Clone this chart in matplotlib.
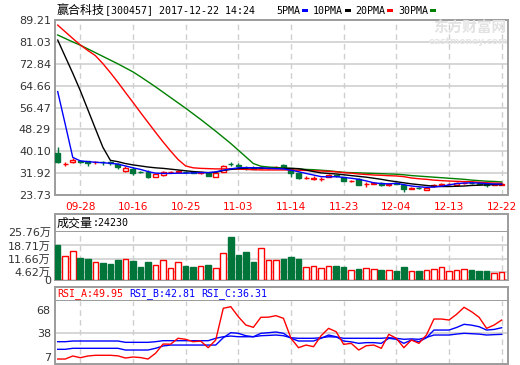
import matplotlib
matplotlib.use('Agg')
import matplotlib.pyplot as plt
from matplotlib.patches import Rectangle

# ---------------- data ----------------
date_labels = ['09-28', '10-16', '10-25', '11-03', '11-14', '11-23', '12-04', '12-13', '12-22']
date_index = [3, 10, 17, 24, 31, 38, 45, 52, 59]

opens = [39.6, 35.35, 36.0, 36.6, 36.3, 36.0, 36.1, 36.0, 35.3, 32.8,
         33.4, 32.4, 32.3, 30.6, 31.3, 32.2, 32.5, 32.4, 32.3, 32.0,
         32.1, 30.6, 32.45, 35.5, 34.8, 33.9, 34.0, 33.8, 33.8, 34.2,
         35.0, 33.35, 31.85, 30.0, 29.8, 29.6, 30.6, 31.2, 30.35, 28.8,
         29.6, 27.8, 28.0, 28.33, 27.4, 28.2, 27.3, 26.15, 26.3, 25.6,
         27.1, 27.6, 27.8, 27.6, 28.1, 28.3, 28.2, 27.7, 27.6, 27.6]
highs = [41.8, 36.2, 37.5, 36.9, 36.6, 36.6, 36.6, 36.4, 35.8, 34.4,
         34.2, 32.6, 33.0, 31.6, 32.8, 32.8, 33.2, 32.8, 32.6, 32.5,
         32.4, 32.0, 34.8, 36.0, 35.6, 34.5, 34.4, 34.7, 34.3, 34.6,
         35.5, 34.0, 32.2, 30.7, 30.8, 30.4, 31.6, 31.4, 30.6, 29.3,
         30.1, 28.6, 28.5, 28.6, 27.9, 28.4, 27.5, 26.7, 26.6, 26.6,
         27.7, 28.2, 28.3, 28.5, 28.7, 29.1, 28.4, 27.9, 28.0, 28.1]
lows = [35.6, 34.7, 35.6, 35.6, 34.6, 35.4, 34.8, 34.9, 33.4, 32.3,
        31.1, 31.8, 30.1, 30.3, 31.0, 31.9, 32.1, 31.9, 31.8, 31.7,
        30.9, 30.4, 32.3, 34.7, 33.9, 33.2, 33.3, 33.3, 33.5, 33.9,
        33.7, 30.6, 29.7, 29.9, 29.4, 29.0, 30.4, 30.5, 28.9, 28.5,
        27.3, 26.9, 27.7, 27.2, 27.2, 27.7, 25.0, 25.9, 25.9, 25.5,
        26.9, 27.3, 27.3, 27.5, 27.7, 27.9, 27.8, 26.9, 27.4, 27.4]
closes = [36.1, 35.45, 36.8, 36.0, 35.6, 36.1, 35.9, 35.6, 34.1, 33.8,
          31.9, 32.3, 30.5, 31.5, 32.3, 32.45, 32.7, 32.2, 32.0, 32.2,
          30.95, 31.85, 34.6, 35.3, 34.7, 33.7, 33.6, 33.95, 34.0, 34.3,
          33.8, 31.85, 30.0, 30.2, 29.9, 29.7, 31.33, 30.7, 29.08, 28.9,
          27.6, 27.9, 28.1, 27.35, 27.7, 27.9, 26.0, 26.25, 26.2, 26.46,
          27.5, 27.8, 27.9, 28.3, 28.2, 28.2, 27.9, 27.6, 27.8, 27.9]

ma5 = [62.4, 50.2, 37.8, 36.5, 36.2, 36.0, 35.8, 35.6, 35.3, 34.6,
       33.9, 33.3, 32.5, 31.9, 31.8, 31.8, 31.9, 31.9, 32.0, 32.1,
       32.1, 32.4, 33.0, 33.5, 33.9, 34.0, 33.9, 33.9, 33.7, 33.6,
       33.5, 33.0, 32.45, 31.8, 31.2, 30.6, 30.5, 30.6, 30.3, 30.0,
       29.6, 29.0, 28.3, 28.0, 27.9, 28.1, 27.6, 27.1, 26.8, 26.6,
       26.7, 27.0, 27.5, 28.0, 28.2, 28.3, 28.2, 28.0, 27.85, 27.8]
ma10 = [81.7, 75.5, 69.3, 62.8, 55.7, 48.6, 41.6, 36.7, 36.2, 35.5,
        35.0, 34.6, 34.2, 33.9, 33.7, 33.4, 33.1, 32.8, 32.5, 32.3,
        32.1, 32.2, 32.9, 33.3, 33.6, 33.8, 33.9, 33.8, 33.7, 33.7,
        33.7, 33.7, 33.6, 33.1, 32.5, 32.0, 31.8, 31.6, 31.3, 31.0,
        30.7, 30.4, 30.0, 29.6, 29.1, 28.7, 28.3, 27.9, 27.6, 27.3,
        27.0, 26.9, 26.9, 27.0, 27.1, 27.3, 27.4, 27.5, 27.6, 27.6]
ma20 = [87.3, 84.8, 82.3, 79.9, 77.8, 75.9, 72.9, 69.5, 65.9, 62.1,
        58.4, 54.6, 50.9, 47.2, 43.6, 40.2, 37.0, 34.6, 33.9, 33.7,
        33.6, 33.5, 33.5, 33.5, 33.4, 33.3, 33.2, 33.1, 33.1, 33.1,
        33.1, 33.1, 33.0, 32.9, 32.8, 32.7, 32.6, 32.4, 32.1, 31.9,
        31.6, 31.4, 31.2, 31.1, 30.95, 30.85, 30.6, 30.1, 29.8, 29.6,
        29.3, 29.1, 28.95, 28.85, 28.75, 28.7, 28.5, 28.3, 28.2, 28.1]
ma30 = [83.6, 82.3, 81.0, 79.8, 78.4, 77.0, 75.6, 74.2, 72.8, 71.3,
        69.8, 68.0, 66.1, 64.2, 62.2, 60.2, 58.2, 56.2, 54.1, 52.0,
        49.8, 47.6, 45.3, 43.0, 40.5, 38.0, 35.5, 34.5, 34.2, 34.0,
        33.8, 33.7, 33.5, 33.3, 33.2, 33.0, 32.8, 32.5, 32.2, 32.1,
        32.0, 31.9, 31.8, 31.7, 31.6, 31.5, 31.3, 31.0, 30.8, 30.6,
        30.4, 30.2, 30.0, 29.8, 29.6, 29.3, 29.1, 28.9, 28.8, 28.6]

volume = [18.9, 13.0, 15.7, 12.1, 11.4, 9.8, 9.5, 8.7, 10.9, 11.3,
          10.4, 7.1, 9.8, 8.0, 10.7, 6.4, 9.8, 7.7, 7.1, 7.5,
          8.2, 6.4, 14.7, 23.2, 13.6, 15.2, 9.8, 17.2, 10.7, 10.7,
          11.4, 12.5, 11.4, 7.0, 7.5, 6.4, 7.5, 7.7, 7.1, 5.4,
          6.1, 6.4, 5.9, 5.5, 5.5, 5.0, 7.1, 4.8, 5.0, 5.5,
          5.9, 7.0, 5.2, 5.5, 5.9, 5.5, 5.0, 5.0, 3.9, 4.4]

rsi_a = [4.9, 4.9, 8.8, 6.6, 8.8, 9.7, 9.7, 9.7, 9.0, 6.2,
         7.5, 6.8, 4.9, 12.3, 24.2, 24.0, 31.6, 30.3, 27.2, 28.0,
         19.5, 29.4, 70.2, 72.3, 59.4, 48.7, 45.7, 58.6, 58.8, 60.7,
         57.3, 31.6, 19.5, 22.9, 20.8, 34.9, 44.4, 40.1, 23.8, 25.1,
         16.5, 22.0, 22.9, 18.7, 36.7, 31.6, 19.5, 29.4, 25.1, 35.8,
         56.4, 56.4, 55.1, 62.4, 71.5, 65.8, 58.6, 44.4, 48.7, 55.1]
rsi_b = [17.4, 17.4, 18.7, 18.7, 18.7, 18.7, 18.7, 18.7, 18.7, 16.5,
         16.5, 16.5, 16.5, 18.7, 21.7, 22.9, 22.9, 22.9, 22.9, 22.9,
         22.9, 22.9, 32.3, 38.8, 38.0, 34.9, 33.6, 38.0, 38.8, 39.7,
         38.0, 31.6, 28.1, 28.1, 28.1, 31.6, 35.8, 33.6, 28.1, 27.0,
         25.1, 26.0, 26.0, 25.1, 31.6, 30.3, 25.1, 29.4, 27.2, 32.3,
         42.2, 42.2, 42.2, 45.5, 49.6, 48.5, 46.5, 42.2, 43.0, 45.2]
rsi_c = [27.2, 27.2, 28.1, 28.1, 28.1, 28.1, 28.1, 28.1, 28.1, 26.4,
         26.4, 26.4, 26.4, 27.2, 28.5, 28.5, 28.5, 28.5, 28.5, 28.5,
         28.5, 31.6, 33.6, 34.5, 33.6, 33.6, 33.6, 34.9, 35.3, 35.8,
         34.9, 32.3, 31.6, 31.6, 31.6, 32.3, 33.6, 33.2, 31.6, 31.6,
         31.6, 31.6, 31.6, 31.6, 32.3, 31.6, 30.3, 30.8, 30.3, 32.7,
         35.8, 35.8, 35.8, 37.0, 38.0, 37.5, 37.0, 35.8, 36.3, 36.7]

price_ticks = [23.73, 31.92, 40.10, 48.29, 56.47, 64.66, 72.84, 81.03, 89.21]
vol_ticks = [0, 4.62, 11.66, 18.71, 25.76]
vol_tick_labels = ['0', '4.62万', '11.66万', '18.71万', '25.76万']
rsi_ticks = [7, 38, 68]

# ---------------- style ----------------
W, H = 520, 365
RED = '#ff0000'
GREEN = '#00753a'
FRAME = '#9c9c9c'
GRID = '#cfcfcf'
LABEL = '#333333'
MONO = ['DejaVu Sans Mono', 'Noto Sans CJK SC']
CJK = ['Noto Sans CJK SC', 'DejaVu Sans']
SANS = ['DejaVu Sans', 'Noto Sans CJK SC']

fig = plt.figure(figsize=(W / 100, H / 100), dpi=100)
fig.patch.set_facecolor('white')


def rect(x0, y0, x1, y1):
    return [x0 / W, 1 - y1 / H, (x1 - x0) / W, (y1 - y0) / H]


def fx(x):
    return x / W


def fy(y):
    return 1 - y / H


n = len(closes)
xs = list(range(n))
XLIM = (-0.36, 59.84)


def style_axes(ax):
    ax.set_xlim(*XLIM)
    for s in ax.spines.values():
        s.set_color(FRAME)
        s.set_linewidth(1.4)
    ax.tick_params(length=0)
    ax.set_facecolor('white')


def vgrid(ax):
    for i in date_index:
        ax.axvline(i, color=GRID, lw=1.0, ls=(0, (4, 3)), zorder=0)


# ---------------- main price panel ----------------
ax = fig.add_axes(rect(55, 20, 508, 195))
style_axes(ax)
ax.set_ylim(price_ticks[0], price_ticks[-1])
ax.set_yticks(price_ticks)
ax.set_yticklabels([f'{v:.2f}' for v in price_ticks], fontsize=8, color=LABEL, family=SANS)
ax.tick_params(axis='y', pad=3)
for v in price_ticks[1:-1]:
    ax.axhline(v, color=GRID, lw=1.2, zorder=0)
vgrid(ax)
ax.set_xticks(date_index)
ax.set_xticklabels(date_labels, fontsize=7.6, color=RED, family=SANS)
ax.tick_params(axis='x', pad=5)

bw = 0.66
for i in xs:
    o, h, l, c = opens[i], highs[i], lows[i], closes[i]
    up = c >= o
    col = RED if up else GREEN
    ax.vlines(i, l, h, color=col, lw=1.0, zorder=2)
    bottom = min(o, c)
    height = max(abs(c - o), 0.12)
    ax.bar(i, height, bottom=bottom, width=bw,
           facecolor='white' if up else GREEN, edgecolor=col, lw=1.0, zorder=3)

ax.plot(xs, ma30, color='#008000', lw=1.0, zorder=4)
ax.plot(xs, ma20, color=RED, lw=1.0, zorder=4)
ax.plot(xs, ma10, color='black', lw=1.0, zorder=4)
ax.plot(xs, ma5, color='#0000ff', lw=1.0, zorder=4)

# ---------------- title / legend ----------------
fig.text(fx(57), fy(10.5), '赢合科技', family=CJK, fontsize=8.64, va='center', ha='left', color='black')
fig.text(fx(105), fy(10.5), '[300457] 2017-12-22 14:24', family=MONO, fontsize=7.2,
         va='center', ha='left', color='black')
legend_items = [('5PMA', 276, '#0000ff'), ('10PMA', 313, 'black'),
                ('20PMA', 355, RED), ('30PMA', 398, '#008000')]
for name, x0, col in legend_items:
    fig.text(fx(x0), fy(10.5), name, family=MONO, fontsize=7.2, va='center', ha='left', color='black')
    xe = x0 + 6.02 * len(name) + 2
    fig.patches.append(Rectangle((fx(xe), fy(11.8)), 5.5 / W, 2.6 / H,
                                 transform=fig.transFigure, facecolor=col, edgecolor='none'))

# watermark
fig.text(fx(470), fy(28), '东方财富网', family=CJK, fontsize=10.5, fontweight='bold',
         color='#e2e2e2', ha='center', va='center', zorder=0)
fig.text(fx(468), fy(41), 'eastmoney.com', family=SANS, fontsize=6.5, fontweight='bold',
         color='#e4e4e4', ha='center', va='center', zorder=0)

# ---------------- volume panel ----------------
axvh = fig.add_axes(rect(55, 214, 508, 232.3))
style_axes(axvh)
axvh.set_xticks([])
axvh.set_yticks([])
fig.text(fx(57), fy(223), '成交量', family=CJK, fontsize=8.64, va='center', ha='left', color='black')
fig.text(fx(93), fy(223), ':24230', family=MONO, fontsize=7.2, va='center', ha='left', color='black')

axv = fig.add_axes(rect(55, 232.3, 508, 280.3))
style_axes(axv)
axv.spines['top'].set_visible(False)
axv.set_ylim(vol_ticks[0], vol_ticks[-1])
axv.set_yticks(vol_ticks)
axv.set_yticklabels(vol_tick_labels, fontsize=8, color=LABEL, family=SANS)
axv.tick_params(axis='y', pad=3)
axv.set_xticks([])
for v in vol_ticks[1:-1]:
    axv.axhline(v, color=GRID, lw=1.2, zorder=0)
vgrid(axv)
for i in xs:
    up = closes[i] >= opens[i]
    axv.bar(i, volume[i], width=0.74, facecolor='white' if up else GREEN,
            edgecolor=RED if up else GREEN, lw=1.0, zorder=3)

# ---------------- RSI panel ----------------
axrh = fig.add_axes(rect(55, 287, 508, 301))
style_axes(axrh)
axrh.set_xticks([])
axrh.set_yticks([])
rsi_head = [('RSI_A:49.95', 57, RED), ('RSI_B:42.81', 129, '#0000ff'), ('RSI_C:36.31', 201, '#0000ff')]
for txt, x0, col in rsi_head:
    fig.text(fx(x0), fy(294), txt, family=MONO, fontsize=7.2, va='center', ha='left', color=col)

axr = fig.add_axes(rect(55, 301, 508, 364))
style_axes(axr)
axr.spines['top'].set_visible(False)
axr.set_ylim(-1.5, 79.6)
axr.set_yticks(rsi_ticks)
axr.set_yticklabels([str(v) for v in rsi_ticks], fontsize=8, color=LABEL, family=SANS)
axr.tick_params(axis='y', pad=3)
axr.set_xticks([])
axr.axhline(38, color=GRID, lw=1.2, zorder=0)
vgrid(axr)
axr.plot(xs, rsi_c, color='#0000ff', lw=1.0, zorder=3)
axr.plot(xs, rsi_b, color='#0000ff', lw=1.0, zorder=3)
axr.plot(xs, rsi_a, color=RED, lw=1.0, zorder=4)

fig.savefig('out.png', dpi=100)
